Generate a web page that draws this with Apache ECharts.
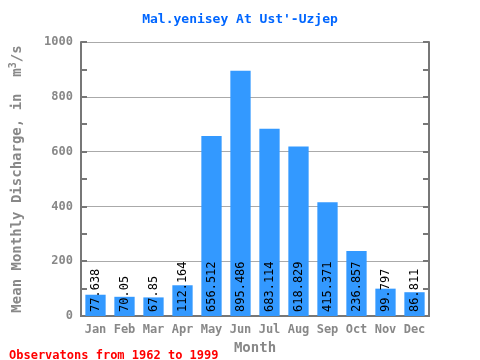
<!DOCTYPE html>
<html><head><meta charset="utf-8">
<script src="https://cdn.jsdelivr.net/npm/echarts@6/dist/echarts.min.js"></script>
<style>html,body{margin:0;padding:0;background:#fff}#c{width:480px;height:360px}</style>
</head><body><div id="c"></div>
<script>
const months = ['Jan','Feb','Mar','Apr','May','Jun','Jul','Aug','Sep','Oct','Nov','Dec'];
const discharge = [77.638, 70.05, 67.85, 112.164, 656.512, 895.486, 683.114, 618.829, 415.371, 236.857, 99.797, 86.811];
const yTicks = [0, 200, 400, 600, 800, 1000];
const titleText = "Mal.yenisey At Ust'-Uzjep";
const noteText = 'Observatons from 1962 to 1999';

const mono = 'DejaVu Sans Mono';
const frame = '#777777';
const chart = echarts.init(document.getElementById('c'));
chart.setOption({
  animation: false,
  title: [{
    text: titleText, left: 'center', top: 8,
    textStyle: {fontFamily: mono, fontSize: 13, fontWeight: 'bold', color: '#0066ff'}
  }, {
    text: noteText, left: 4, top: 345,
    textStyle: {fontFamily: mono, fontSize: 12, fontWeight: 'bold', color: '#ff0000'}
  }],
  grid: {left: 79, right: 51, top: 42, bottom: 38},
  xAxis: [{
    type: 'category', data: months, position: 'bottom',
    axisLine: {lineStyle: {color: frame, width: 2}},
    axisTick: {inside: true, length: 6, lineStyle: {color: frame, width: 2}},
    axisLabel: {fontFamily: mono, fontSize: 12, fontWeight: 'bold', color: '#888888', margin: 8},
    name: 'Month', nameLocation: 'middle', nameGap: 25,
    nameTextStyle: {fontFamily: mono, fontSize: 14, fontWeight: 'bold', color: '#888888'}
  }, {
    type: 'category', data: months, position: 'top',
    axisLine: {lineStyle: {color: frame, width: 2}},
    axisTick: {inside: true, length: 6, lineStyle: {color: frame, width: 2}},
    axisLabel: {show: false}
  }],
  yAxis: [{
    type: 'value', min: yTicks[0], max: yTicks[yTicks.length - 1], interval: 200, position: 'left',
    axisLine: {show: true, lineStyle: {color: frame, width: 2}},
    axisTick: {show: true, inside: true, length: 6, lineStyle: {color: frame, width: 2}},
    minorTick: {show: true, splitNumber: 2, length: 6, lineStyle: {color: frame, width: 2}},
    splitLine: {show: true, lineStyle: {color: '#aaaaaa', width: 1}},
    axisLabel: {fontFamily: mono, fontSize: 12, fontWeight: 'bold', color: '#888888', margin: 8,
      formatter: v => String(v)},
    name: '{a|Mean Monthly Discharge, in  m}{s|3}{a|/s}', nameLocation: 'middle', nameGap: 55,
    nameTextStyle: {
      rich: {
        a: {fontFamily: mono, fontSize: 14, fontWeight: 'bold', color: '#888888'},
        s: {fontFamily: mono, fontSize: 10, fontWeight: 'bold', color: '#888888', verticalAlign: 'top', padding: [0, 0, 8, 0]}
      }
    }
  }, {
    type: 'value', min: yTicks[0], max: yTicks[yTicks.length - 1], interval: 200, position: 'right',
    axisLine: {show: true, lineStyle: {color: frame, width: 2}},
    axisTick: {show: true, inside: true, length: 6, lineStyle: {color: frame, width: 2}},
    minorTick: {show: true, splitNumber: 2, length: 6, lineStyle: {color: frame, width: 2}},
    splitLine: {show: false},
    axisLabel: {show: false}
  }],
  series: [{
    type: 'bar', data: discharge, barWidth: '70%',
    itemStyle: {color: '#3399ff'},
    label: {
      show: true, position: 'insideBottom', rotate: 90, align: 'left', verticalAlign: 'middle',
      distance: 4, fontFamily: mono, fontSize: 12, color: '#000000',
      formatter: p => String(p.value)
    }
  }]
});
</script></body></html>
